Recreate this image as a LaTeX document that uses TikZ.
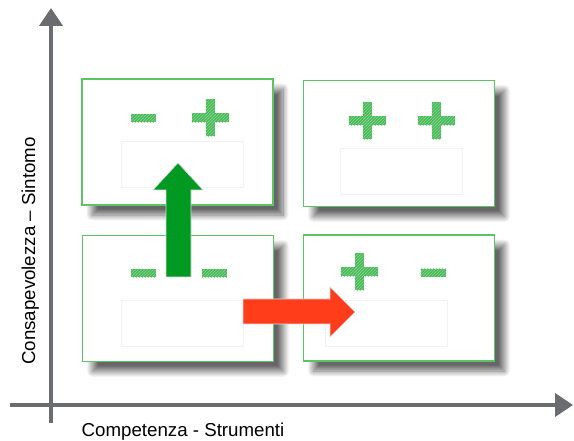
\documentclass[tikz,border=0pt]{standalone}
\usepackage{fontspec}
\setmainfont{Liberation Sans}
\usetikzlibrary{arrows.meta,shadows.blur,patterns}
\definecolor{axisgray}{HTML}{6B6C70}
\definecolor{boxgreen}{HTML}{5CC465}
\definecolor{signgreen}{HTML}{48BC58}
\definecolor{arrowgreen}{HTML}{009A22}
\definecolor{arrowred}{HTML}{FF3D1A}
\tikzset{
	box/.style={draw=boxgreen, line width=1.3pt, fill=white, minimum width=191pt, minimum height=126pt,
		blur shadow={shadow xshift=10pt, shadow yshift=-10pt, shadow blur radius=6pt, shadow opacity=60,
			shadow blur steps=12}},
	inbox/.style={draw=black!5, line width=0.5pt, minimum width=122pt, minimum height=46pt},
	sign/.style={fill=signgreen},
	hatch/.style={pattern=north east lines, pattern color=white!35!signgreen},
	axis/.style={draw=axisgray, line width=4pt, -{Triangle[length=18pt,width=23pt]}}
}
\begin{document}
\begin{tikzpicture}[x=1pt,y=-1pt]
	\useasboundingbox (0,0) rectangle (574,441);
	% axes
	\draw[axis] (51,423)--(51,8);
	\draw[axis] (10,405)--(573,405);
	\node[rotate=90, anchor=base, font=\fontsize{18.7}{22}\selectfont] (ylab) at (35,251) {Consapevolezza – Sintomo};
	\node[anchor=base, font=\fontsize{18.7}{22}\selectfont] (xlab) at (183,436) {Competenza - Strumenti};
	
	% quadrants
	\node[box] (tl) at (177.5,142) {};
	\node[box] (tr) at (399,143.5) {};
	\node[box] (bl) at (178,298.5) {};
	\node[box] (br) at (399,298) {};
	\node[inbox] (tlin) at (182,164.5) {};
	\node[inbox] (trin) at (401.5,171.5) {};
	\node[inbox] (blin) at (182,323) {};
	\node[inbox] (brin) at (386,323) {};
	
	% signs
	\foreach \x/\y in {210/118, 367/121, 436/121, 359/272}{
		\fill[sign] (\x-18.5,\y-4.5) rectangle (\x+18.5,\y+4.5);
		\fill[sign] (\x-4.5,\y-18.5) rectangle (\x+4.5,\y+18.5);
		\fill[hatch] (\x-18.5,\y-4.5) rectangle (\x+18.5,\y+4.5);
		\fill[hatch] (\x-4.5,\y-18.5) rectangle (\x+4.5,\y+18.5);
	}
	\foreach \x/\y in {143.5/118.5, 143.5/273.5, 214.5/273.5, 433/273}{
		\fill[sign] (\x-12.5,\y-4) rectangle (\x+12.5,\y+4);
		\fill[hatch] (\x-12.5,\y-4) rectangle (\x+12.5,\y+4);
	}
	
	% arrows
	\filldraw[fill=arrowgreen, draw=black!15, line width=0.6pt] (166,277)--(166,190)--(153,190)--(178,163)--(203,190)--(191,190)--(191,277)--cycle;
	\filldraw[fill=arrowred, draw=black!15, line width=0.6pt] (243,299)--(330,299)--(330,287)--(355,312)--(330,337)--(330,324)--(243,324)--cycle;
\end{tikzpicture}
\end{document}
